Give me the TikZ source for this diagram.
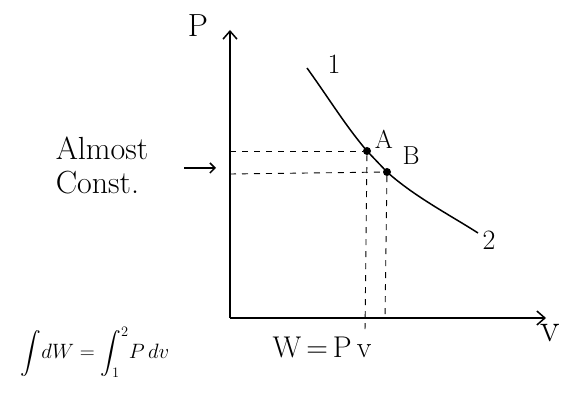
\documentclass[tikz,border=0pt]{standalone}
\usepackage{amsmath}
\usetikzlibrary{arrows.meta}
\begin{document}
\begin{tikzpicture}[x=1pt,y=-1pt,
  axis/.style={line width=1.5pt,-{Straight Barb[length=8pt,width=14pt]}},
  guide/.style={line width=0.9pt,dash pattern=on 6pt off 6pt},
  curve/.style={line width=1.5pt},
  dot/.style={circle,fill=black,inner sep=0pt,minimum size=8pt},
  fs/.style={font=\fontsize{#1}{#1}\selectfont}]
\useasboundingbox (0,0) rectangle (563,398);
% axes
\coordinate (O) at (230,318);
\coordinate (Ptop) at (230,30);
\coordinate (Vend) at (546,318);
\draw[axis] (O) -- (Ptop);
\draw[axis] (O) -- (Vend);
\node[fs=32] (plab) at (198,26) {P};
\node[fs=40] (vlab) at (550,333) {v};
% curve points
\coordinate (c1) at (307,68);
\node[dot] (A) at (367,151) {};
\node[dot] (B) at (387,172) {};
\coordinate (c2) at (478,233);
\draw[curve] (c1) .. controls (330,100) and (345,125) .. (A.center)
  -- (B.center) .. controls (415,197) and (450,215) .. (c2);
\node[fs=28] (one) at (334,64) {1};
\node[fs=28] (two) at (489,240) {2};
\node[fs=26] (alab) at (384,139) {A};
\node[fs=26] (blab) at (411,156) {B};
% dashed guides
\coordinate (ya) at (230,151);
\coordinate (yb) at (230,174);
\coordinate (xa) at (365,332);
\coordinate (xb) at (385,318);
\draw[guide] (ya) -- (A);
\draw[guide] (yb) -- (B);
\draw[guide] (A) -- (xa);
\draw[guide] (B) -- (xb);
% almost const
\node[font=\fontsize{32}{34}\selectfont,align=left] (almost) at (102,165) {Almost\\Const.};
\coordinate (arrs) at (184,168);
\coordinate (arre) at (216,168);
\draw[line width=1.5pt,-{Straight Barb[length=5pt,width=10pt]}] (arrs) -- (arre);
% formulas
\node[fs=30] (wpv) at (322,347) {W\,=\,P\,v};
\node[fs=22] (integ) at (95,352) {$\displaystyle\int\! dW = \int_1^2\! P\,dv$};
\end{tikzpicture}
\end{document}
